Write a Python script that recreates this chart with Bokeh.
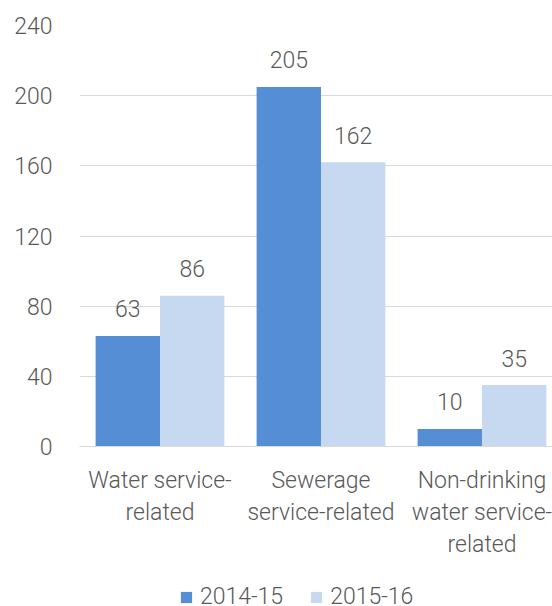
from bokeh.plotting import figure
from bokeh.layouts import column
from bokeh.models import Range1d, FixedTicker, Legend, LegendItem, ColumnDataSource
from bokeh.embed import file_html
from bokeh.resources import INLINE
from bokeh.core.properties import value

categories = ["Water service-\nrelated", "Sewerage\nservice-related", "Non-drinking\nwater service-\nrelated"]
series_names = ["2014-15", "2015-16"]
values_2014_15 = [63, 205, 10]
values_2015_16 = [86, 162, 35]
y_ticks = [0, 40, 80, 120, 160, 200, 240]

FONT = "'Roboto Light', Roboto"
TXT = "#595959"
C1 = "#558ED5"
C2 = "#C6D9F1"
FS = "23px"

p = figure(width=552, height=566, output_backend="svg", toolbar_location=None,
           x_range=Range1d(-0.5, 2.438), y_range=Range1d(0, 240),
           min_border_left=79, min_border_right=0, min_border_top=25, min_border_bottom=120)
p.outline_line_color = None

xs = list(range(len(categories)))
src1 = ColumnDataSource(dict(x=[x - 0.2 for x in xs], top=values_2014_15, lab=[str(v) for v in values_2014_15]))
src2 = ColumnDataSource(dict(x=[x + 0.2 for x in xs], top=values_2015_16, lab=[str(v) for v in values_2015_16]))

p.vbar(x="x", top="top", width=0.4, bottom=0, source=src1, fill_color=C1, line_color=None)
p.vbar(x="x", top="top", width=0.4, bottom=0, source=src2, fill_color=C2, line_color=None)

for s in (src1, src2):
    p.text(x="x", y="top", text="lab", source=s, text_align="center", text_baseline="alphabetic",
           y_offset=-27, text_font=value(FONT), text_font_size=FS, text_color=TXT)

p.xgrid.grid_line_color = None
p.ygrid.grid_line_color = "#d9d9d9"
p.ygrid.grid_line_width = 1
p.yaxis.ticker = FixedTicker(ticks=y_ticks)
p.yaxis.axis_line_color = None
p.yaxis.major_tick_line_color = None
p.yaxis.minor_tick_line_color = None
p.yaxis.major_label_standoff = 21
p.yaxis.major_label_text_font = FONT
p.yaxis.major_label_text_font_size = FS
p.yaxis.major_label_text_color = TXT

p.xaxis.ticker = FixedTicker(ticks=xs)
p.xaxis.major_label_overrides = {i: c for i, c in enumerate(categories)}
p.xaxis.axis_line_color = "#d9d9d9"
p.xaxis.major_tick_line_color = None
p.xaxis.minor_tick_line_color = None
p.xaxis.major_label_standoff = 14
p.xaxis.major_label_text_font = FONT
p.xaxis.major_label_text_font_size = FS
p.xaxis.major_label_text_color = TXT
p.xaxis.major_label_text_line_height = 1.2

# legend strip (same series drawn off-range so only the legend shows)
lf = figure(width=552, height=40, output_backend="svg", toolbar_location=None,
            x_range=Range1d(10, 11), y_range=Range1d(1000, 1001), x_axis_type=None, y_axis_type=None,
            min_border=0)
lf.outline_line_color = None
lf.xgrid.grid_line_color = None
lf.ygrid.grid_line_color = None
l1 = lf.vbar(x="x", top="top", width=0.4, bottom=0, source=src1, fill_color=C1, line_color=None)
l2 = lf.vbar(x="x", top="top", width=0.4, bottom=0, source=src2, fill_color=C2, line_color=None)

legend = Legend(items=[LegendItem(label=series_names[0], renderers=[l1]),
                       LegendItem(label=series_names[1], renderers=[l2])],
                orientation="horizontal", location=(100, -4),
                padding=0, margin=0, spacing=26, glyph_width=14, glyph_height=14,
                label_standoff=7, label_text_font=FONT, label_text_font_size=FS,
                label_text_color=TXT, border_line_color=None, background_fill_alpha=0)
lf.add_layout(legend, "center")

layout = column(p, lf, spacing=0)
open("out.html", "w").write(file_html(layout, INLINE))
